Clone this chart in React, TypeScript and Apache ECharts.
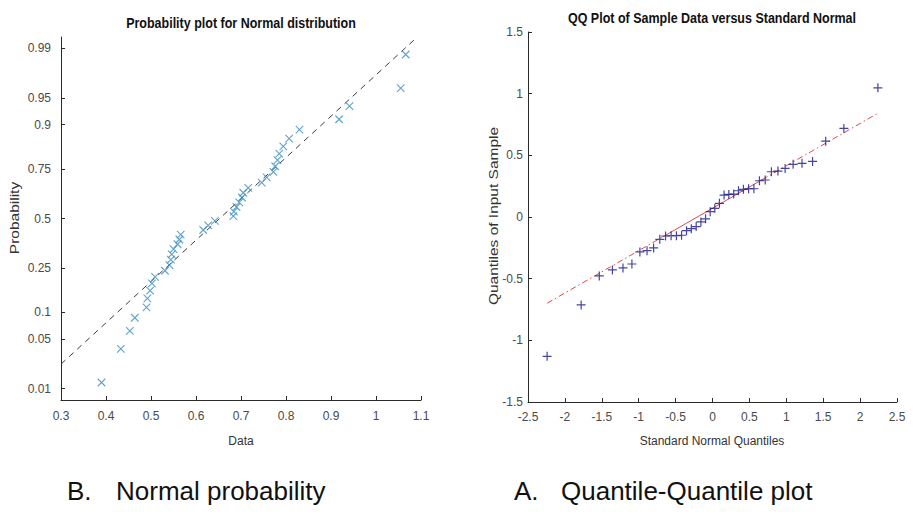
import React, { useEffect, useRef } from "react";
import * as echarts from "echarts";

// ---- Left panel: normal probability plot ----
const probDataValues = [
  0.39, 0.433, 0.453, 0.464, 0.49, 0.492, 0.498, 0.502, 0.509, 0.531,
  0.541, 0.544, 0.546, 0.55, 0.559, 0.563, 0.566, 0.616, 0.627, 0.642,
  0.683, 0.684, 0.69, 0.696, 0.702, 0.705, 0.716, 0.746, 0.757, 0.772,
  0.776, 0.781, 0.785, 0.794, 0.807, 0.83, 0.918, 0.941, 1.055, 1.066,
];
// probability positions, expressed on the normal-quantile scale of the axis
const probZ = [
  -2.241, -1.78, -1.534, -1.356, -1.213, -1.092, -0.984, -0.887, -0.798, -0.714,
  -0.636, -0.561, -0.489, -0.419, -0.352, -0.287, -0.221, -0.157, -0.094, -0.031,
  0.031, 0.094, 0.157, 0.221, 0.287, 0.352, 0.419, 0.489, 0.561, 0.636,
  0.714, 0.798, 0.887, 0.984, 1.092, 1.213, 1.356, 1.534, 1.78, 2.241,
];
const probRefX = [0.3, 1.09];
const probRefZ = [-1.99, 2.47];
const probTickZ = [-2.326, -1.645, -1.282, -0.674, 0, 0.674, 1.282, 1.645, 2.326];
const probTickLabels = ["0.01", "0.05", "0.1", "0.25", "0.5", "0.75", "0.9", "0.95", "0.99"];

// ---- Right panel: QQ plot ----
const qqTheoretical = [
  -2.241, -1.78, -1.534, -1.356, -1.213, -1.092, -0.984, -0.887, -0.798, -0.714,
  -0.636, -0.561, -0.489, -0.419, -0.352, -0.287, -0.221, -0.157, -0.094, -0.031,
  0.031, 0.094, 0.157, 0.221, 0.287, 0.352, 0.419, 0.489, 0.561, 0.636,
  0.714, 0.798, 0.887, 0.984, 1.092, 1.213, 1.356, 1.534, 1.78, 2.241,
];
const qqSample = [
  -1.13, -0.713, -0.478, -0.429, -0.413, -0.381, -0.283, -0.273, -0.251, -0.181,
  -0.154, -0.152, -0.152, -0.148, -0.111, -0.095, -0.078, -0.04, -0.015, 0.043,
  0.07, 0.111, 0.178, 0.183, 0.186, 0.213, 0.224, 0.229, 0.229, 0.294,
  0.3, 0.367, 0.372, 0.394, 0.427, 0.435, 0.451, 0.615, 0.718, 1.047,
];
const qqLineX = [-2.241, -0.674, 0.674, 2.241];
const qqLineY = [-0.699, -0.161, 0.303, 0.841];

const FONT = '"Liberation Sans", Arial, Helvetica, sans-serif';
const AXIS_COLOR = "#2a2a2a";
const LABEL_COLOR = "#4a4a4a";

export default function App() {
  const ref = useRef<HTMLDivElement>(null);
  useEffect(() => {
    if (!ref.current) return;
    const chart = echarts.init(ref.current, undefined, { renderer: "svg" });

    const axisCommon = {
      type: "value" as const,
      axisLine: { show: true, onZero: false, lineStyle: { color: AXIS_COLOR, width: 1 } },
      axisTick: { show: true, inside: true, length: 4, lineStyle: { color: AXIS_COLOR } },
      axisLabel: { color: LABEL_COLOR, fontSize: 12, fontFamily: FONT },
      splitLine: { show: false },
    };

    const probPoints = probDataValues.map((v, i) => [v, probZ[i]]);
    const qqPoints = qqTheoretical.map((v, i) => [v, qqSample[i]]);
    const seg = (a: number, b: number) => [
      [qqLineX[a], qqLineY[a]],
      [qqLineX[b], qqLineY[b]],
    ];

    const text = (
      t: string,
      x: number,
      y: number,
      size: number,
      opts: any = {}
    ) => ({
      type: "text",
      x,
      y,
      rotation: opts.rotation || 0,
      scaleX: opts.scaleX || 1,
      scaleY: opts.scaleY || 1,
      style: {
        text: t,
        fill: opts.fill || "#222",
        fontSize: size,
        fontFamily: FONT,
        fontWeight: opts.bold ? "bold" : "normal",
        textAlign: opts.align || "center",
        textVerticalAlign: "middle",
      },
    });

    chart.setOption({
      animation: false,
      backgroundColor: "#ffffff",
      grid: [
        { left: 61, top: 37, width: 360, height: 363 },
        { left: 528, top: 32, width: 369, height: 370 },
      ],
      xAxis: [
        {
          ...axisCommon,
          gridIndex: 0,
          min: 0.3,
          max: 1.1,
          interval: 0.1,
          axisLabel: { ...axisCommon.axisLabel, margin: 10 },
        },
        {
          ...axisCommon,
          gridIndex: 1,
          min: -2.5,
          max: 2.5,
          interval: 0.5,
          axisLabel: { ...axisCommon.axisLabel, margin: 9 },
        },
      ],
      yAxis: [
        {
          ...axisCommon,
          gridIndex: 0,
          min: -2.48,
          max: 2.48,
          axisTick: { ...axisCommon.axisTick, customValues: probTickZ },
          axisLabel: {
            ...axisCommon.axisLabel,
            margin: 10,
            customValues: probTickZ,
            formatter: (v: number) => {
              const i = probTickZ.findIndex((z) => Math.abs(z - v) < 1e-6);
              return i >= 0 ? probTickLabels[i] : "";
            },
          },
        },
        {
          ...axisCommon,
          gridIndex: 1,
          min: -1.5,
          max: 1.5,
          interval: 0.5,
          axisLabel: { ...axisCommon.axisLabel, margin: 5 },
        },
      ],
      series: [
        {
          type: "line",
          xAxisIndex: 0,
          yAxisIndex: 0,
          data: probRefX.map((x, i) => [x, probRefZ[i]]),
          symbol: "none",
          lineStyle: { color: "#3c3c3c", width: 1, type: [6, 5] },
          z: 2,
        },
        {
          type: "scatter",
          xAxisIndex: 0,
          yAxisIndex: 0,
          data: probPoints,
          symbol: "path://M0,0L10,10M10,0L0,10",
          symbolSize: 7.5,
          itemStyle: { color: "rgba(0,0,0,0)", borderColor: "#3a8cc2", borderWidth: 1.1 },
          z: 3,
        },
        {
          type: "line",
          xAxisIndex: 1,
          yAxisIndex: 1,
          data: seg(0, 1),
          symbol: "none",
          lineStyle: { color: "#dc4a4a", width: 1, type: [6, 3, 1.5, 3] },
          z: 2,
        },
        {
          type: "line",
          xAxisIndex: 1,
          yAxisIndex: 1,
          data: seg(1, 2),
          symbol: "none",
          lineStyle: { color: "#dc4a4a", width: 1, type: "solid" },
          z: 2,
        },
        {
          type: "line",
          xAxisIndex: 1,
          yAxisIndex: 1,
          data: seg(2, 3),
          symbol: "none",
          lineStyle: { color: "#dc4a4a", width: 1, type: [6, 3, 1.5, 3] },
          z: 2,
        },
        {
          type: "scatter",
          xAxisIndex: 1,
          yAxisIndex: 1,
          data: qqPoints,
          symbol: "path://M5,0L5,10M0,5L10,5",
          symbolSize: 9,
          itemStyle: { color: "rgba(0,0,0,0)", borderColor: "#16168a", borderWidth: 1.2 },
          z: 3,
        },
      ],
      graphic: [
        text("Probability plot for Normal distribution", 241, 23, 12.5, { bold: true, fill: "#111", scaleY: 1.2 }),
        text("QQ Plot of Sample Data versus Standard Normal", 712, 18, 12.5, { bold: true, fill: "#111", scaleY: 1.2 }),
        text("Data", 241, 441, 12, { fill: "#333" }),
        text("Standard Normal Quantiles", 712, 441, 12, { fill: "#333" }),
        text("Probability", 15, 218, 12.4, { fill: "#333", rotation: Math.PI / 2, scaleX: 1.25 }),
        text("Quantiles of Input Sample", 494, 216, 12.4, { fill: "#333", rotation: Math.PI / 2, scaleX: 1.25 }),
        text("B.", 67, 491, 26, { align: "left", fill: "#111" }),
        text("Normal probability", 116, 491, 26, { align: "left", fill: "#111" }),
        text("A.", 514, 491, 26, { align: "left", fill: "#111" }),
        text("Quantile-Quantile plot", 561, 491, 26, { align: "left", fill: "#111" }),
      ],
    });

    return () => chart.dispose();
  }, []);

  return (
    <div
      ref={ref}
      style={{ position: "absolute", left: 0, top: 0, width: 913, height: 517 }}
    />
  );
}
